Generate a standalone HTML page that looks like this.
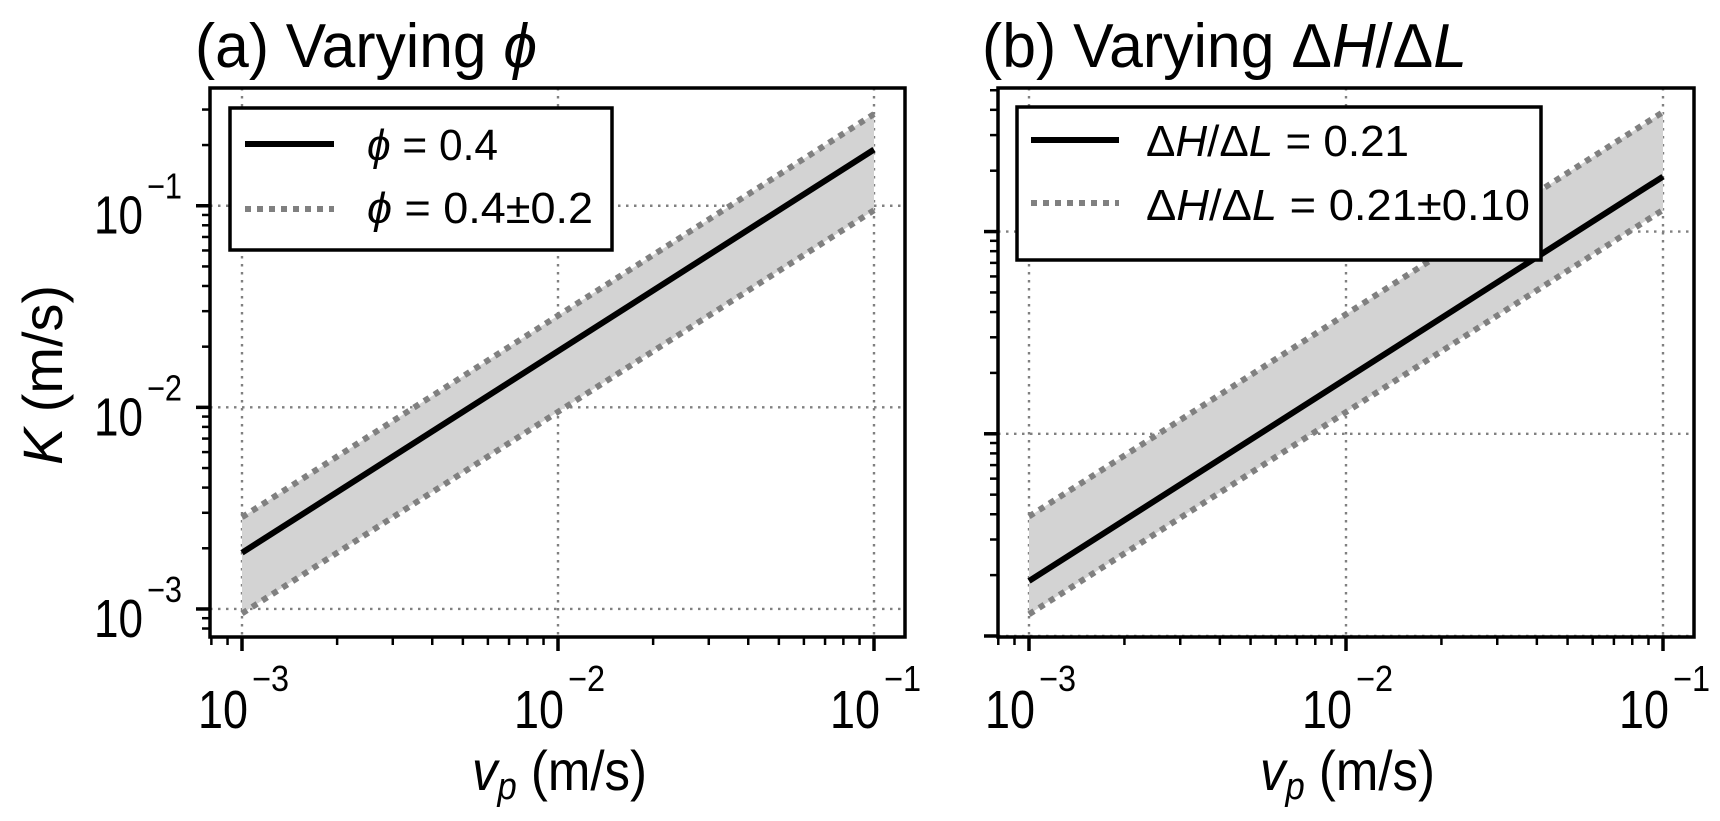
<!DOCTYPE html>
<html><head><meta charset="utf-8"><style>
html,body{margin:0;padding:0;background:#fff;}
svg{display:block;font-family:"Liberation Sans",Arial,sans-serif;}
</style></head><body>
<svg id="chart" width="1720" height="821" viewBox="0 0 1720 821" xmlns="http://www.w3.org/2000/svg"></svg>
<script>
// ---- data ----
const vpValues = [0.001, 0.1];
const phiCentral = [0.0019, 0.19];
const phiUpper = [0.00285, 0.285];
const phiLower = [0.00095, 0.095];
const ghCentral = [0.00187, 0.187];
const ghUpper = [0.0039, 0.39];
const ghLower = [0.00128, 0.128];
const xTickExps = [-3, -2, -1];
const yTickExpsA = [-3, -2, -1];
const yTickExpsB = [-3, -2, -1];

const NS = "http://www.w3.org/2000/svg";
const svg = document.getElementById('chart');
function mk(tag, attrs, parent) {
  const e = document.createElementNS(NS, tag);
  for (const k in attrs) e.setAttribute(k, attrs[k]);
  (parent || svg).appendChild(e);
  return e;
}

const panels = [
  {id:'a', left:210, right:905, top:88, bottom:637, ymin:-3.139, ymax:-0.416,
   c:phiCentral, u:phiUpper, l:phiLower, yt:yTickExpsA, ylabels:true,
   title:'(a) Varying ', titleLen:342, titleX:195,
   leg:{x:230,y:108,w:382,h:142, tx:367, t1:'ϕ = 0.4', t1len:131, t2:'ϕ = 0.4±0.2', t2len:226, lx1:245, lx2:334, ly1:144, ly2:209, b1:160, b2:223}},
  {id:'b', left:998, right:1694, top:88, bottom:637, ymin:-3.005, ymax:-0.29,
   c:ghCentral, u:ghUpper, l:ghLower, yt:yTickExpsB, ylabels:false,
   title:'(b) Varying ', titleLen:485, titleX:982,
   leg:{x:1017,y:107,w:524,h:153, tx:1146, t1:'ΔH/ΔL = 0.21', t1len:263, t2:'ΔH/ΔL = 0.21±0.10', t2len:384, lx1:1031, lx2:1119, ly1:140, ly2:203, b1:156, b2:220}}
];
panels[0].xmin = -3 - (242-210)/316; panels[0].xmax = -1 + (905-874)/316;
panels[1].xmin = -3 - (1029-998)/317; panels[1].xmax = -1 + (1694-1663)/317;

panels.forEach(p => {
  const g = mk('g', {});
  
  
  const X = v => p.left + (Math.log10(v) - p.xmin) / (p.xmax - p.xmin) * (p.right - p.left);
  const Y = v => p.bottom - (Math.log10(v) - p.ymin) / (p.ymax - p.ymin) * (p.bottom - p.top);

  xTickExps.forEach(e => {
    const x = X(Math.pow(10, e));
    const l = mk('line', {x1:x, x2:x, y1:p.top, y2:p.bottom, stroke:'#808080', 'stroke-width':2.4, 'stroke-dasharray':'2.5 5.5'}, g);
    
    
  });
  p.yt.forEach(e => {
    const y = Y(Math.pow(10, e));
    const l = mk('line', {x1:p.left, x2:p.right, y1:y, y2:y, stroke:'#808080', 'stroke-width':2.4, 'stroke-dasharray':'2.5 5.5'}, g);
    
    
  });

  const pts = [];
  vpValues.forEach((v, i) => pts.push(X(v) + ',' + Y(p.u[i])));
  for (let i = vpValues.length - 1; i >= 0; i--) pts.push(X(vpValues[i]) + ',' + Y(p.l[i]));
  const band = mk('polygon', {points: pts.join(' '), fill:'#d3d3d3'}, g);
  
  
  [['upper', p.u], ['lower', p.l]].forEach(([nm, arr]) => {
    const pl = mk('polyline', {points: vpValues.map((v, i) => X(v) + ',' + Y(arr[i])).join(' '), fill:'none', stroke:'#808080', 'stroke-width':6, 'stroke-dasharray':'6 6'}, g);
    
    
  });
  const cl = mk('polyline', {points: vpValues.map((v, i) => X(v) + ',' + Y(p.c[i])).join(' '), fill:'none', stroke:'#000', 'stroke-width':6}, g);
  
  

  const fr = mk('rect', {x:p.left, y:p.top, width:p.right - p.left, height:p.bottom - p.top, fill:'none', stroke:'#000', 'stroke-width':3.5}, g);
  
  

  for (let e = -4; e <= 0; e++) {
    for (let m = 1; m <= 9; m++) {
      const v = m * Math.pow(10, e);
      const lv = Math.log10(v);
      if (lv < p.xmin || lv > p.xmax) continue;
      const x = X(v);
      const len = m === 1 ? 14 : 8;
      const t = mk('line', {x1:x, x2:x, y1:p.bottom, y2:p.bottom + len, stroke:'#000', 'stroke-width':m === 1 ? 3.5 : 2.5}, g);
      
      
    }
  }
  xTickExps.forEach(e => {
    const x = X(Math.pow(10, e));
    const t = mk('text', {x:x - 44, y:728, 'font-size':54, textLength:50, lengthAdjust:'spacingAndGlyphs'}, g);
    
    
    t.textContent = '10';
    const s = mk('text', {x:x + 10, y:691, 'font-size':36, textLength:37, lengthAdjust:'spacingAndGlyphs'}, g);
    
    
    s.textContent = '−' + (-e);
  });
  for (let e = -4; e <= 0; e++) {
    for (let m = 1; m <= 9; m++) {
      const v = m * Math.pow(10, e);
      const lv = Math.log10(v);
      if (lv < p.ymin || lv > p.ymax) continue;
      const y = Y(v);
      const len = m === 1 ? 14 : 8;
      const t = mk('line', {x1:p.left - len, x2:p.left, y1:y, y2:y, stroke:'#000', 'stroke-width':m === 1 ? 3.5 : 2.5}, g);
      
      
    }
  }
  if (p.ylabels) {
    p.yt.forEach(e => {
      const y = Y(Math.pow(10, e));
      const t = mk('text', {x:94, y:y + 28, 'font-size':54, textLength:49, lengthAdjust:'spacingAndGlyphs'}, g);
      
      
      t.textContent = '10';
      const s = mk('text', {x:147, y:y - 7, 'font-size':36, textLength:35, lengthAdjust:'spacingAndGlyphs'}, g);
      
      
      s.textContent = '−' + (-e);
    });
  }

  const tt = mk('text', {x:p.titleX, y:67, 'font-size':62, textLength:p.titleLen, lengthAdjust:'spacingAndGlyphs'}, g);
  
  
  tt.appendChild(document.createTextNode(p.title));
  if (p.id === 'a') {
    const sp = mk('tspan', {'font-style':'italic'}, tt); sp.textContent = 'ϕ';
  } else {
    tt.appendChild(document.createTextNode('Δ'));
    const h = mk('tspan', {'font-style':'italic'}, tt); h.textContent = 'H';
    tt.appendChild(document.createTextNode('/Δ'));
    const l = mk('tspan', {'font-style':'italic'}, tt); l.textContent = 'L';
  }

  const xl = mk('text', {x:p.left + 262, y:790, 'font-size':56, textLength:175, lengthAdjust:'spacingAndGlyphs'}, g);
  
  
  const vv = mk('tspan', {'font-style':'italic'}, xl); vv.textContent = 'v';
  const pp = mk('tspan', {'font-style':'italic', 'font-size':38, dy:9}, xl); pp.textContent = 'p';
  const rest = mk('tspan', {dy:-9}, xl); rest.textContent = ' (m/s)';

  const L = p.leg;
  const lg = mk('g', {}, g);
  
  
  const lb = mk('rect', {x:L.x, y:L.y, width:L.w, height:L.h, fill:'#fff', stroke:'#000', 'stroke-width':3.5}, lg);
  
  
  const s1 = mk('line', {x1:L.lx1, x2:L.lx2, y1:L.ly1, y2:L.ly1, stroke:'#000', 'stroke-width':6}, lg);
  
  
  const s2 = mk('line', {x1:L.lx1, x2:L.lx2, y1:L.ly2, y2:L.ly2, stroke:'#808080', 'stroke-width':6, 'stroke-dasharray':'6 6'}, lg);
  
  
  [[L.t1, L.b1, L.t1len], [L.t2, L.b2, L.t2len]].forEach(([txt, by, len]) => {
    const t = mk('text', {x:L.tx, y:by, 'font-size':44, textLength:len, lengthAdjust:'spacingAndGlyphs'}, lg);
    
    
    t.innerHTML = txt.replace('ϕ', '<tspan font-style="italic">ϕ</tspan>')
      .replace(/ΔH\/ΔL/, 'Δ<tspan font-style="italic">H</tspan>/Δ<tspan font-style="italic">L</tspan>');
  });
});

const yt = mk('text', {x:0, y:0, 'font-size':56, transform:'translate(62,375) rotate(-90)', 'text-anchor':'middle', textLength:180, lengthAdjust:'spacingAndGlyphs'});


yt.innerHTML = '<tspan font-style="italic">K</tspan> (m/s)';
</script>
</body></html>
